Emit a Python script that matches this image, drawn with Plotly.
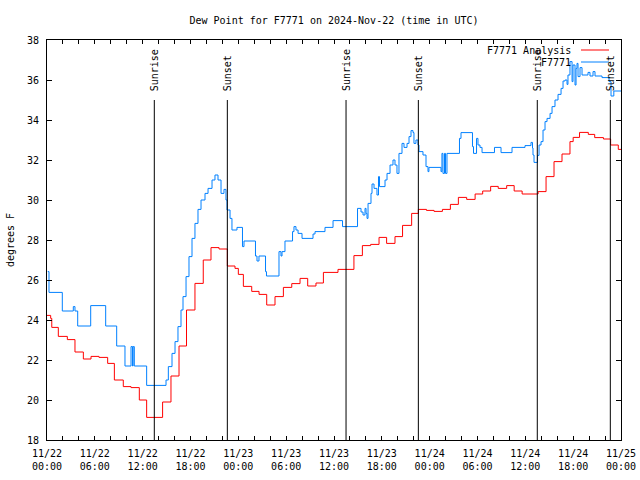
import pandas as pd
import plotly.graph_objects as go

BASE = pd.Timestamp("2024-11-22 00:00")

# F7771 Analysis (red) : hours since 11/22 00:00 UTC, dew point (F)
analysis_hours = [0, 0.46, 0.6, 1.42, 2.55, 3.51, 4.56, 5.52, 6.52, 7.61, 8.45, 9.57, 10.54, 11.58, 12.5,
                  14.5, 15.55, 16.56, 17.5, 18.56, 19.6, 20.57, 21.58, 22.62, 23.58, 24.0, 24.63, 25.68,
                  26.6, 27.56, 28.6, 29.65, 30.7, 31.74, 32.7, 33.74, 34.67, 36.5, 38.5, 39.56, 40.6,
                  41.65, 42.6, 43.65, 44.6, 45.74, 46.58, 47.6, 48.55, 49.6, 50.6, 51.6, 52.64, 53.7,
                  54.65, 55.65, 56.6, 57.66, 58.6, 59.6, 61.6, 62.6, 63.6, 64.6, 65.6, 66.0, 66.8,
                  67.9, 68.7, 69.8, 70.7, 71.66, 72.0]
analysis_values = [24.23, 24.08, 23.63, 23.18, 23.02, 22.4, 22.05, 22.18, 22.13, 21.83, 21.0, 20.67, 20.62,
                   20.0, 19.13, 19.9, 21.2, 22.7, 24.5, 25.83, 27.0, 27.62, 27.55, 26.7, 26.58, 26.28,
                   25.68, 25.43, 25.28, 24.75, 25.17, 25.63, 25.82, 26.08, 25.7, 25.85, 26.38, 26.53,
                   27.22, 27.72, 27.78, 28.13, 27.83, 28.17, 28.73, 29.33, 29.53, 29.48, 29.43, 29.53,
                   29.78, 30.13, 30.03, 30.3, 30.45, 30.68, 30.58, 30.72, 30.45, 30.3, 30.42, 31.17,
                   31.92, 32.3, 32.92, 33.13, 33.38, 33.28, 33.12, 33.05, 32.75, 32.53, 32.53]

# F7771 observations (blue)
obs_hours = [0.09, 0.25, 1.92, 3.30, 3.51, 3.85, 5.48, 7.36, 8.74, 9.78, 10.54, 10.73, 10.8, 10.95,
             12.5, 14.93, 15.22, 15.68, 16.06, 16.43, 16.81, 17.06, 17.44, 17.81, 18.19, 18.56, 18.94,
             19.32, 19.82, 20.2, 20.7, 21.07, 21.45, 21.83, 22.2, 22.45, 22.58, 22.96, 23.2, 23.83,
             24.52, 24.71, 26.15, 26.34, 26.59, 27.41, 27.53, 29.1, 29.35, 29.48, 29.85, 30.8, 30.98,
             31.23, 31.49, 31.99, 33.37, 33.62, 34.87, 35.88, 37.07, 38.95, 39.39, 39.64, 39.89,
             40.02, 40.14, 40.27, 40.64, 40.77, 41.02, 41.39, 41.58, 41.71, 42.4, 42.65, 43.03,
             43.4, 43.65, 43.9, 44.15, 44.53, 44.78, 45.16, 45.41, 45.66, 45.91, 46.03, 46.28,
             46.53, 46.66, 47.16, 47.54, 47.79, 47.91, 49.42, 49.54, 49.67, 49.86, 49.99, 50.17,
             51.74, 51.93, 53.37, 53.5, 53.88, 54.06, 54.31, 54.57, 56.13, 56.95, 58.33, 59.96,
             60.71, 60.9, 60.96, 61.09, 61.53, 61.72, 61.97, 62.22, 62.47, 62.72, 63.1, 63.35,
             63.72, 64.1, 64.48, 64.73, 64.98, 65.23, 65.35, 65.6, 65.86, 65.98, 66.23, 66.36,
             66.48, 66.61, 66.86, 67.11, 67.86, 68.11, 68.49, 68.74, 69.62, 70.5, 70.75, 71.1, 72.0]
obs_values = [26.42, 25.38, 24.45, 24.67, 24.45, 23.7, 24.72, 23.7, 22.7, 21.7, 22.67, 21.7, 22.67, 21.7,
              20.73, 21.0, 21.67, 22.33, 22.92, 23.67, 24.5, 25.17, 26.17, 27.17, 28.08, 28.83, 29.53,
              30.0, 30.33, 30.58, 31.0, 31.25, 31.0, 30.33, 30.53, 30.0, 29.5, 29.08, 28.5, 28.63,
              27.67, 27.95, 27.2, 26.95, 27.2, 26.42, 26.2, 27.42, 27.2, 27.42, 27.95, 28.42, 28.67,
              28.5, 28.33, 28.08, 28.3, 28.42, 28.63, 28.97, 28.67, 29.58, 29.4, 29.25, 29.58,
              29.33, 29.08, 29.83, 30.33, 30.8, 30.58, 30.25, 31.17, 30.67, 31.0, 31.33, 31.75,
              32.0, 31.75, 31.33, 32.33, 32.83, 32.63, 32.83, 33.17, 33.47, 33.37, 32.83, 33.0,
              32.75, 32.42, 32.25, 31.67, 31.42, 31.63, 31.42, 32.33, 31.33, 32.33, 31.33, 32.33,
              33.08, 33.37, 32.67, 32.33, 33.08, 32.75, 32.63, 32.37, 32.63, 32.37, 32.63, 32.72,
              32.88, 32.6, 32.25, 31.88, 32.23, 32.75, 32.92, 33.5, 33.92, 34.08, 34.33, 34.67,
              35.0, 35.28, 35.58, 35.95, 36.0, 35.78, 36.25, 36.92, 35.92, 36.75, 35.75, 36.58,
              36.83, 36.17, 36.62, 36.25, 36.38, 36.2, 36.42, 36.2, 36.12, 35.92, 35.2, 35.45, 35.45]

sun_hours = [13.46, 22.62, 37.51, 46.58, 61.5, 70.66]
sun_labels = ["Sunrise", "Sunset", "Sunrise", "Sunset", "Sunrise", "Sunset"]

series_names = ["F7771 Analysis", "F7771"]
series_colors = ["#ff0000", "#0080ff"]


def to_time(hours):
    return [BASE + pd.Timedelta(hours=h) for h in hours]


FONT = "DejaVu Sans Mono"
fig = go.Figure()
fig.add_trace(go.Scatter(x=to_time(analysis_hours), y=analysis_values, mode="lines",
                         line=dict(color=series_colors[0], width=1, shape="hv"),
                         name=series_names[0], showlegend=False))
fig.add_trace(go.Scatter(x=to_time(obs_hours), y=obs_values, mode="lines",
                         line=dict(color=series_colors[1], width=1, shape="hv"),
                         name=series_names[1], showlegend=False))

sun_times = to_time(sun_hours)
for t, lab in zip(sun_times, sun_labels):
    fig.add_shape(type="line", xref="x", yref="y", x0=t, x1=t, y0=18, y1=35,
                  line=dict(color="black", width=1))
    fig.add_annotation(x=t, y=35, xref="x", yref="y", text=lab, textangle=-90,
                       showarrow=False, xanchor="center", yanchor="bottom", yshift=7,
                       font=dict(family=FONT, size=10, color="black"))

# legend (gnuplot style: text then sample on the right)
for i, (nm, col) in enumerate(zip(series_names, series_colors)):
    ypx = 50 + 12 * i
    yp = (440 - ypx) / 400
    fig.add_annotation(x=(573 - 47) / 574, y=yp, xref="paper", yref="paper", text=nm,
                       showarrow=False, xanchor="right", yanchor="middle",
                       font=dict(family=FONT, size=10, color="black"))
    fig.add_shape(type="line", xref="paper", yref="paper",
                  x0=(581 - 47) / 574, x1=(609 - 47) / 574, y0=yp, y1=yp,
                  line=dict(color=col, width=1))

fig.update_layout(
    width=640, height=480,
    margin=dict(l=47, r=19, t=40, b=40),
    paper_bgcolor="white", plot_bgcolor="white",
    font=dict(family=FONT, size=10, color="black"),
    title=dict(text="Dew Point for F7771 on 2024-Nov-22 (time in UTC)", x=0.5, xref="paper",
               xanchor="center", y=1 - 20 / 480, yref="container", yanchor="middle",
               font=dict(family=FONT, size=10, color="black")),
    showlegend=False,
)
fig.update_xaxes(type="date", range=[BASE, BASE + pd.Timedelta(hours=72)], automargin=False,
                 tick0=BASE, dtick=6 * 3600 * 1000, tickformat="%m/%d<br>%H:%M",
                 ticks="inside", ticklen=4, tickcolor="black", showgrid=False, zeroline=False,
                 showline=True, linecolor="black", linewidth=1, mirror="ticks",
                 ticklabelstandoff=4,
                 minor=dict(dtick=2 * 3600 * 1000, ticks="inside", ticklen=4, tickcolor="black",
                            showgrid=False),
                 tickfont=dict(family=FONT, size=10, color="black"))
fig.update_yaxes(range=[18, 38], dtick=2, tick0=18, ticks="inside", ticklen=5, tickcolor="black",
                 automargin=False, ticklabelstandoff=5,
                 showgrid=False, zeroline=False, showline=True, linecolor="black", linewidth=1,
                 mirror="ticks", tickfont=dict(family=FONT, size=10, color="black"),
                 title=dict(text="degrees F", standoff=10, font=dict(family=FONT, size=10, color="black")))

fig.write_html("out.html", config={"displayModeBar": False},
               post_script="document.body.style.margin='0';")
